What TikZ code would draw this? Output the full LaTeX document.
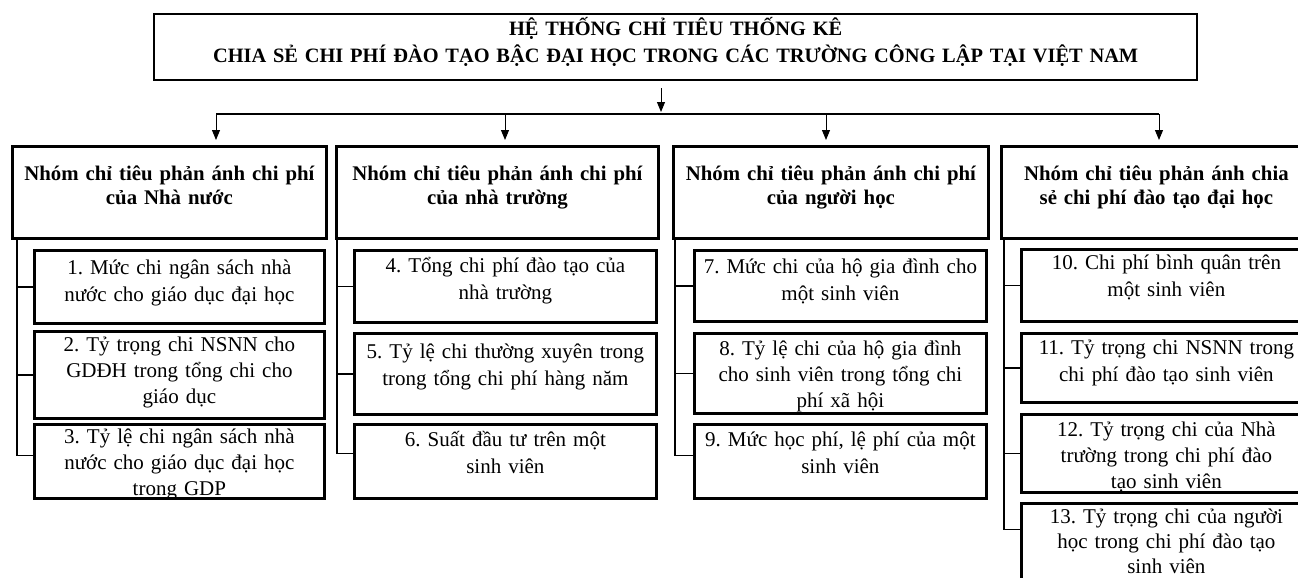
\documentclass[tikz,border=0pt]{standalone}
\usepackage{fontspec}
\setmainfont{Liberation Serif}
\usetikzlibrary{arrows.meta}
\frenchspacing

\begin{document}
\begin{tikzpicture}[
  x=0.5pt, y=-0.5pt,
  every node/.style={inner sep=0pt},
  % boxes keep their text at a fixed baseline under the top edge
  titlebox/.style={draw, line width=1.2pt, anchor=north west, align=center,
    font=\bfseries\fontsize{10.2}{13.5}\selectfont, text height=10.5pt},
  hdr/.style={draw, line width=1.4pt, anchor=north west, align=center,
    font=\bfseries\fontsize{10.4}{12}\selectfont, text height=17pt, text depth=29pt},
  cbox/.style={draw, line width=1.4pt, anchor=north west, align=center,
    font=\fontsize{10.5}{13.5}\selectfont},
  three/.style={font=\fontsize{10.5}{13}\selectfont},
  link/.style={draw, line width=0.9pt},
  arrow/.style={draw, line width=0.5pt, -{Triangle[length=5pt,width=4pt]}}]

  \useasboundingbox (0,0) rectangle (1298,578);

  % title
  \node[titlebox, text width=521.5pt, text depth=22.5pt] (title) at (153,13)
    {HỆ THỐNG CHỈ TIÊU THỐNG KÊ\\CHIA SẺ CHI PHÍ ĐÀO TẠO BẬC ĐẠI HỌC TRONG CÁC TRƯỜNG CÔNG LẬP TẠI VIỆT NAM};

  % group headers
  \node[hdr, text width=157pt]   (h1) at (11,145)   {Nhóm chỉ tiêu phản ánh chi phí\\của Nhà nước};
  \node[hdr, text width=161pt]   (h2) at (335,145)  {Nhóm chỉ tiêu phản ánh chi phí\\của nhà trường};
  \node[hdr, text width=157.5pt] (h3) at (672,145)  {Nhóm chỉ tiêu phản ánh chi phí\\của người học};
  \node[hdr, text width=155pt]   (h4) at (1000,145) {Nhóm chỉ tiêu phản ánh chia\\sẻ chi phí đào tạo đại học};

  % indicators
  \node[cbox, text width=145pt, text height=12pt, text depth=24.5pt] (c1) at (33,249) {1. Mức chi ngân sách nhà\\nước cho giáo dục đại học};
  \node[cbox, three, text width=145pt, text height=10pt, text depth=33.5pt] (c2) at (33,330) {2. Tỷ trọng chi NSNN cho\\GDĐH trong tổng chi cho\\giáo dục};
  \node[cbox, three, text width=145pt, text height=9.5pt, text depth=27.5pt] (c3) at (33,423) {3. Tỷ lệ chi ngân sách nhà\\nước cho giáo dục đại học\\trong GDP};

  \node[cbox, text width=151pt, text height=11pt, text depth=25pt]   (c4) at (353,249) {4. Tổng chi phí đào tạo của\\nhà trường};
  \node[cbox, text width=151pt, text height=12.5pt, text depth=28pt] (c5) at (353,332) {5. Tỷ lệ chi thường xuyên trong\\trong tổng chi phí hàng năm};
  \node[cbox, text width=151pt, text height=11pt, text depth=26pt]   (c6) at (353,423) {6. Suất đầu tư trên một\\sinh viên};

  \node[cbox, text width=146pt, text height=11.5pt, text depth=24pt] (c7) at (693,249) {7. Mức chi của hộ gia đình cho\\một sinh viên};
  \node[cbox, three, text width=146pt, text height=11pt, text depth=29pt] (c8) at (693,332) {8. Tỷ lệ chi của hộ gia đình\\cho sinh viên trong tổng chi\\phí xã hội};
  \node[cbox, text width=146pt, text height=11pt, text depth=26pt]   (c9) at (693,423) {9. Mức học phí, lệ phí của một\\sinh viên};

  \node[cbox, text width=145pt, text height=10pt, text depth=26pt]   (c10) at (1020,248) {10. Chi phí bình quân trên\\một sinh viên};
  \node[cbox, text width=145pt, text height=10.5pt, text depth=24pt] (c11) at (1020,332) {11. Tỷ trọng chi NSNN trong\\chi phí đào tạo sinh viên};
  \node[cbox, three, text width=145pt, text height=11pt, text depth=28pt] (c12) at (1020,413) {12. Tỷ trọng chi của Nhà\\trường trong chi phí đào\\tạo sinh viên};
  \node[cbox, text width=145pt, text height=10pt, text depth=30pt, font=\fontsize{10.5}{12.5}\selectfont] (c13) at (1020,502) {13. Tỷ trọng chi của người\\học trong chi phí đào tạo\\sinh viên};

  % bus under the title
  \coordinate (bus) at (661,114);
  \coordinate (b1) at (216,114);
  \coordinate (b2) at (505,114);
  \coordinate (b3) at (826,114);
  \coordinate (b4) at (1159,114);
  \draw[arrow, shorten <=3.5pt, shorten >=1pt] (title.south -| bus) -- (bus);
  \draw[link] (b1) -- (b4);
  \draw[arrow, shorten >=2.5pt] (b1) -- (b1 |- h1.north);
  \draw[arrow, shorten >=2.5pt] (b2) -- (b2 |- h2.north);
  \draw[arrow, shorten >=2.5pt] (b3) -- (b3 |- h3.north);
  \draw[arrow, shorten >=2.5pt] (b4) -- (b4 |- h4.north);

  % side rails
  \coordinate (t1) at (17,0);
  \coordinate (t2) at (337,0);
  \coordinate (t3) at (675,0);
  \coordinate (t4) at (1004,0);
  \coordinate (k3)  at ([yshift=3pt]c3.west);
  \coordinate (k6)  at ([yshift=4pt]c6.west);
  \coordinate (k9)  at ([yshift=3pt]c9.west);
  \coordinate (k13) at ([yshift=7pt]c13.west);

  \draw[link] (h1.south -| t1) -- (k3 -| t1) -- (k3);
  \draw[link] (c1.west -| t1) -- (c1.west);
  \draw[link] (c2.west -| t1) -- (c2.west);

  \draw[link] (h2.south -| t2) -- (k6 -| t2) -- (k6);
  \draw[link] (c4.west -| t2) -- (c4.west);
  \draw[link] (c5.west -| t2) -- (c5.west);

  \draw[link] (h3.south -| t3) -- (k9 -| t3) -- (k9);
  \draw[link] (c7.west -| t3) -- (c7.west);
  \draw[link] (c8.west -| t3) -- (c8.west);

  \draw[link] (h4.south -| t4) -- (k13 -| t4) -- (k13);
  \draw[link] (c10.west -| t4) -- (c10.west);
  \draw[link] (c11.west -| t4) -- (c11.west);
  \draw[link] (c12.west -| t4) -- (c12.west);
\end{tikzpicture}
\end{document}
